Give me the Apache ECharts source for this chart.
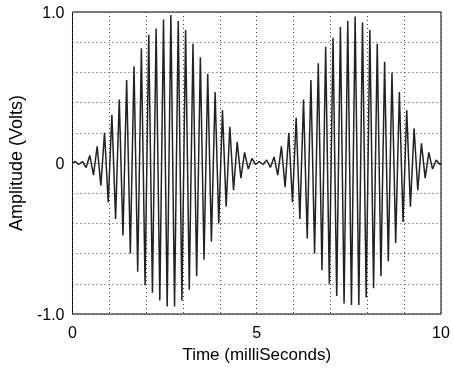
<!DOCTYPE html>
<html>
<head>
<meta charset="utf-8">
<script src="https://cdn.jsdelivr.net/npm/echarts@6/dist/echarts.min.js"></script>
<style>html,body{margin:0;padding:0;background:#fff;}#c{width:454px;height:369px;}</style>
</head>
<body>
<div id="c"></div>
<script>
// Times (ms) of the waveform's turning points
var times = [0.00,0.08,0.17,0.27,0.37,0.47,0.57,0.67,0.77,0.87,0.97,1.07,1.17,1.27,1.37,1.47,1.57,1.67,1.77,1.87,
  1.97,2.07,2.17,2.27,2.37,2.47,2.57,2.67,2.77,2.87,2.97,3.07,3.17,3.27,3.37,3.47,3.57,3.67,3.77,3.87,
  3.97,4.07,4.17,4.27,4.37,4.47,4.57,4.67,4.77,4.87,4.97,5.07,5.17,5.27,5.37,5.47,5.57,5.67,5.77,5.87,
  5.97,6.07,6.17,6.27,6.37,6.47,6.57,6.67,6.77,6.87,6.97,7.07,7.17,7.27,7.37,7.47,7.57,7.67,7.77,7.87,
  7.97,8.07,8.17,8.27,8.37,8.47,8.57,8.67,8.77,8.87,8.97,9.07,9.17,9.27,9.37,9.47,9.57,9.67,9.77,9.87,
  9.97,10.00];
// Amplitude (Volts) at those turning points
var amplitude = [0.00,0.01,-0.01,0.01,-0.03,0.05,-0.08,0.11,-0.15,0.20,-0.26,0.32,-0.37,0.42,-0.48,0.55,-0.60,0.64,-0.72,0.76,
  -0.81,0.85,-0.86,0.89,-0.91,0.95,-0.95,0.98,-0.95,0.94,-0.91,0.88,-0.84,0.79,-0.75,0.70,-0.64,0.59,-0.52,0.47,
  -0.40,0.35,-0.29,0.24,-0.18,0.14,-0.10,0.07,-0.04,0.03,-0.01,0.01,-0.01,0.02,-0.03,0.04,-0.08,0.11,-0.16,0.20,
  -0.26,0.30,-0.37,0.42,-0.50,0.55,-0.60,0.66,-0.71,0.77,-0.80,0.83,-0.88,0.90,-0.93,0.94,-0.94,0.97,-0.94,0.93,
  -0.89,0.88,-0.83,0.79,-0.75,0.67,-0.65,0.60,-0.53,0.47,-0.39,0.35,-0.29,0.23,-0.18,0.13,-0.10,0.07,-0.04,0.02,
  -0.01,0.00];
var xTickLabels = ['0','5','10'];
var yTickLabels = {'-1': '-1.0', '0': '0', '1': '1.0'};

var data = times.map(function(t, i){ return [t, amplitude[i]]; });
var font = "'Liberation Sans', Arial, Helvetica, sans-serif";
var chart = echarts.init(document.getElementById('c'), null, {renderer:'canvas'});
chart.setOption({
  animation: false,
  backgroundColor: '#fff',
  grid: {left: 56, right: 13, top: 12, bottom: 55, show: true, borderColor: '#000', borderWidth: 1, backgroundColor: 'transparent'},
  xAxis: {
    type: 'value', min: 0, max: 10, interval: 1,
    name: 'Time (milliSeconds)', nameLocation: 'middle', nameGap: 31,
    nameTextStyle: {fontFamily: font, fontSize: 17, color: '#000'},
    axisLine: {show: false}, axisTick: {show: false},
    axisLabel: {fontFamily: font, fontSize: 16, color: '#000', margin: 12,
      formatter: function(v){ var r = Math.round(v); if (Math.abs(v - r) > 1e-6) return ''; var i = r / 5; return (r % 5 === 0) ? xTickLabels[i] : ''; }},
    splitLine: {show: true, lineStyle: {color: '#444', type: [1, 3], width: 1}}
  },
  yAxis: {
    type: 'value', min: -1, max: 1, interval: 0.2,
    name: 'Amplitude (Volts)', nameLocation: 'middle', nameGap: 26, nameRotate: 90,
    nameTextStyle: {fontFamily: font, fontSize: 18, color: '#000'},
    axisLine: {show: false}, axisTick: {show: false},
    axisLabel: {fontFamily: font, fontSize: 16, color: '#000', margin: 8, verticalAlign: 'top', padding: [-6, 0, 0, 0],
      formatter: function(v){ var r = Math.round(v); if (Math.abs(v - r) > 1e-6) return ''; return yTickLabels[String(r)] || ''; }},
    splitLine: {show: true, lineStyle: {color: '#444', type: [1, 3], width: 1}}
  },
  series: [{
    type: 'line', data: data, showSymbol: false, symbol: 'none',
    lineStyle: {color: '#222', width: 1.5}, smooth: false
  }]
});
</script>
</body>
</html>
